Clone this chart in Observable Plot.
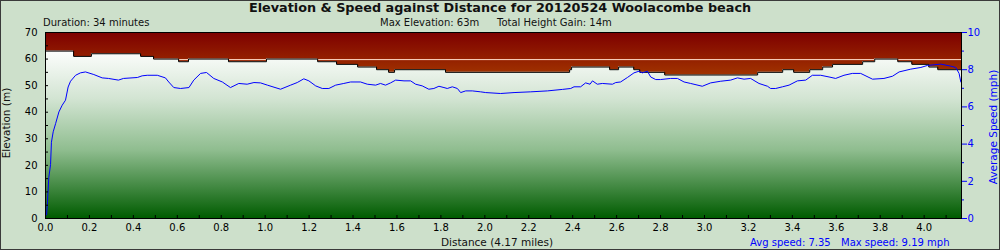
<!DOCTYPE html>
<html><head><meta charset="utf-8">
<script src="https://cdn.jsdelivr.net/npm/d3@7"></script>
<script src="https://cdn.jsdelivr.net/npm/@observablehq/plot@0.6"></script>
<style>
html,body{margin:0;padding:0;background:#cde0cb;}
#chart svg{display:block;outline:1px solid #3a3a3a;outline-offset:-1px;}
</style></head><body><div id="chart"></div>
<script>
// ---- Texts ----
const titleText = "Elevation & Speed against Distance for 20120524 Woolacombe beach";
const durationText = "Duration: 34 minutes";
const maxElevText = "Max Elevation: 63m";
const gainText = "Total Height Gain: 14m";
const xLabelText = "Distance (4.17 miles)";
const avgSpeedText = "Avg speed: 7.35";
const maxSpeedText = "Max speed: 9.19 mph";
const yLabelText = "Elevation (m)";
const y2LabelText = "Average Speed (mph)";

// ---- Scales / ticks ----
const totalDistance = 4.17;
const elevMax = 70;
const speedMax = 10;
const elevLabelTicks = [0, 10, 20, 30, 40, 50, 60, 70];
const elevMinorTicks = [0, 5, 10, 15, 20, 25, 30, 35, 40, 45, 50, 55, 60, 65, 70];
const speedLabelTicks = [0, 2, 4, 6, 8, 10];
const speedMinorTicks = [1, 3, 5, 7, 9];
const distLabelTicks = [0, 0.2, 0.4, 0.6, 0.8, 1.0, 1.2, 1.4, 1.6, 1.8, 2.0, 2.2, 2.4, 2.6, 2.8, 3.0, 3.2, 3.4, 3.6, 3.8, 4.0];
const distMinorTicks = [0, 0.1, 0.2, 0.3, 0.4, 0.5, 0.6, 0.7, 0.8, 0.9, 1.0, 1.1, 1.2, 1.3, 1.4, 1.5, 1.6, 1.7, 1.8, 1.9, 2.0, 2.1, 2.2, 2.3, 2.4, 2.5, 2.6, 2.7, 2.8, 2.9, 3.0, 3.1, 3.2, 3.3, 3.4, 3.5, 3.6, 3.7, 3.8, 3.9, 4.0, 4.1];
const refElevation = 59.8;

// ---- Elevation (stepped) ----
const elevDist = [0, 0.128, 0.209, 0.433, 0.492, 0.606, 0.651, 0.833, 1.006, 1.239, 1.325, 1.421, 1.507, 1.562, 1.589, 1.821, 2.386, 2.395, 2.568, 2.609, 2.678, 2.705, 2.819, 3.242, 3.356, 3.406, 3.479, 3.538, 3.583, 3.720, 3.775, 3.880, 3.944, 4.021, 4.062, 4.17];
const elevVals = [63, 61, 62, 61, 60, 59, 60, 59, 60, 59, 58, 57, 56, 55, 56, 55, 56, 57, 56, 57, 56, 55, 54, 55, 56, 55, 56, 57, 58, 59, 60, 59, 58, 57, 56, 56];

// ---- Speed ----
const speedDist = [0.005, 0.009, 0.015, 0.023, 0.027, 0.035, 0.046, 0.061, 0.076, 0.091, 0.103, 0.114, 0.137, 0.159, 0.182, 0.220, 0.258, 0.287, 0.332, 0.355, 0.418, 0.440, 0.463, 0.509, 0.546, 0.561, 0.584, 0.615, 0.653, 0.675, 0.706, 0.733, 0.766, 0.805, 0.842, 0.880, 0.918, 0.949, 0.979, 1.010, 1.070, 1.116, 1.146, 1.176, 1.199, 1.230, 1.260, 1.290, 1.321, 1.358, 1.389, 1.434, 1.465, 1.503, 1.525, 1.548, 1.571, 1.594, 1.632, 1.662, 1.685, 1.715, 1.745, 1.768, 1.791, 1.814, 1.829, 1.852, 1.875, 1.890, 1.913, 1.943, 1.981, 2.004, 2.072, 2.133, 2.209, 2.285, 2.353, 2.391, 2.406, 2.436, 2.459, 2.479, 2.490, 2.512, 2.535, 2.581, 2.596, 2.618, 2.649, 2.679, 2.702, 2.717, 2.740, 2.755, 2.778, 2.800, 2.846, 2.877, 2.907, 2.937, 2.990, 3.028, 3.074, 3.119, 3.150, 3.180, 3.210, 3.248, 3.287, 3.301, 3.324, 3.355, 3.385, 3.423, 3.461, 3.491, 3.529, 3.567, 3.597, 3.635, 3.673, 3.711, 3.765, 3.817, 3.856, 3.886, 3.939, 3.985, 4.015, 4.076, 4.121, 4.144, 4.159, 4.167];
const speedVals = [0.2, 0.9, 2.2, 2.9, 4.1, 4.66, 5.1, 5.73, 6.09, 6.36, 7.07, 7.38, 7.70, 7.83, 7.88, 7.74, 7.56, 7.53, 7.44, 7.53, 7.58, 7.67, 7.70, 7.70, 7.56, 7.34, 7.04, 6.99, 7.04, 7.44, 7.80, 7.85, 7.53, 7.34, 7.04, 7.26, 7.22, 7.31, 7.29, 7.17, 6.95, 7.17, 7.31, 7.51, 7.40, 7.13, 6.99, 6.99, 7.17, 7.26, 7.34, 7.34, 7.22, 7.17, 7.26, 7.17, 7.29, 7.44, 7.40, 7.40, 7.22, 7.13, 6.95, 6.99, 7.11, 7.04, 6.99, 7.08, 6.99, 6.77, 6.86, 6.86, 6.81, 6.77, 6.72, 6.77, 6.81, 6.86, 6.94, 6.99, 7.08, 7.08, 7.29, 7.22, 7.40, 7.22, 7.26, 7.22, 7.31, 7.34, 7.58, 7.83, 7.92, 7.83, 7.92, 7.61, 7.47, 7.47, 7.53, 7.53, 7.34, 7.26, 7.11, 7.29, 7.38, 7.44, 7.56, 7.49, 7.53, 7.26, 7.11, 6.99, 6.99, 7.08, 7.17, 7.40, 7.44, 7.70, 7.70, 7.61, 7.53, 7.70, 7.80, 7.80, 7.49, 7.53, 7.65, 7.88, 8.03, 8.12, 8.23, 8.30, 8.19, 8.12, 7.80, 7.34];

const elevData = elevDist.map((d, i) => ({d, e: elevVals[i]}));
const speedData = speedDist.map((d, i) => ({d, s: speedVals[i]}));
const k = elevMax / speedMax; // speed -> elevation-axis units
const fmt1 = d3.format(".1f");

const chart = Plot.plot({
  width: 1000, height: 250,
  marginLeft: 45, marginRight: 39, marginTop: 32, marginBottom: 32,
  style: {fontFamily: "DejaVu Sans", fontSize: "10px", background: "#cde0cb", color: "black"},
  x: {domain: [0, totalDistance], axis: null},
  y: {domain: [0, elevMax], axis: null},
  marks: [
    Plot.frame({fill: "url(#gRed)", stroke: null}),
    Plot.ruleY([refElevation], {stroke: "#ffdcc8", strokeWidth: 1}),
    Plot.areaY(elevData, {x: "d", y: "e", curve: "step-after", fill: "url(#gGreen)"}),
    Plot.line(elevData, {x: "d", y: "e", curve: "step-after", stroke: "black", strokeWidth: 1}),
    Plot.line(speedData, {x: "d", y: d => d.s * k, stroke: "#0000ff", strokeWidth: 1}),
    Plot.frame({stroke: "black", strokeWidth: 1}),
    Plot.axisY(elevLabelTicks, {anchor: "left", tickSize: 0, tickPadding: 8, label: null}),
    Plot.axisY(elevMinorTicks, {anchor: "left", tickSize: -3, tickFormat: () => "", label: null}),
    Plot.axisY(speedLabelTicks.map(v => v * k), {anchor: "right", tickSize: 5, tickPadding: 1, tickFormat: v => String(Math.round(v / k)), label: null, color: "#0000ff"}),
    Plot.axisY(speedMinorTicks.map(v => v * k), {anchor: "right", tickSize: 2, tickFormat: () => "", label: null, color: "#0000ff"}),
    Plot.axisX(distLabelTicks, {anchor: "bottom", tickSize: 0, tickPadding: 5, tickFormat: fmt1, label: null}),
    Plot.axisX(distMinorTicks, {anchor: "bottom", tickSize: -3, tickFormat: () => "", label: null})
  ]
});

const svg = d3.select(chart);
svg.insert("defs", ":first-child").html(`
  <linearGradient id="gRed" gradientUnits="userSpaceOnUse" x1="0" y1="32" x2="0" y2="78">
    <stop offset="0" stop-color="#7e0000"/>
    <stop offset="1" stop-color="#a43800"/>
  </linearGradient>
  <linearGradient id="gGreen" gradientUnits="userSpaceOnUse" x1="0" y1="48" x2="0" y2="218">
    <stop offset="0" stop-color="#ffffff"/>
    <stop offset="0.3" stop-color="#d2e4d2"/>
    <stop offset="0.6" stop-color="#8fbd8f"/>
    <stop offset="1" stop-color="#005c00"/>
  </linearGradient>`);

const g = svg.append("g").attr("font-family", "DejaVu Sans").attr("text-anchor", "start");
g.append("text").text(titleText).attr("x", 500).attr("y", 12).attr("text-anchor", "middle")
  .attr("font-size", 12.8).attr("font-weight", "bold").attr("fill", "#111");
g.append("text").text(durationText).attr("x", 43).attr("y", 26).attr("text-anchor", "start").attr("font-size", 10).attr("fill", "#111");
g.append("text").text(maxElevText).attr("x", 380).attr("y", 26).attr("text-anchor", "start").attr("font-size", 10).attr("fill", "#111");
g.append("text").text(gainText).attr("x", 497).attr("y", 26).attr("text-anchor", "start").attr("font-size", 10).attr("fill", "#111");
g.append("text").text(xLabelText).attr("x", 497).attr("y", 246).attr("text-anchor", "middle").attr("font-size", 10.5).attr("fill", "#111");
g.append("text").text(avgSpeedText).attr("x", 750).attr("y", 246).attr("text-anchor", "start").attr("font-size", 10).attr("fill", "#0000ff");
g.append("text").text(maxSpeedText).attr("x", 841).attr("y", 246).attr("text-anchor", "start").attr("font-size", 10).attr("fill", "#0000ff");
g.append("text").text(yLabelText).attr("transform", "translate(10,123) rotate(-90)").attr("text-anchor", "middle").attr("font-size", 10.5).attr("fill", "#111");
g.append("text").text(y2LabelText).attr("transform", "translate(997,127) rotate(-90)").attr("text-anchor", "middle").attr("font-size", 10.5).attr("fill", "#0000ff");

document.getElementById("chart").appendChild(chart);
</script></body></html>
